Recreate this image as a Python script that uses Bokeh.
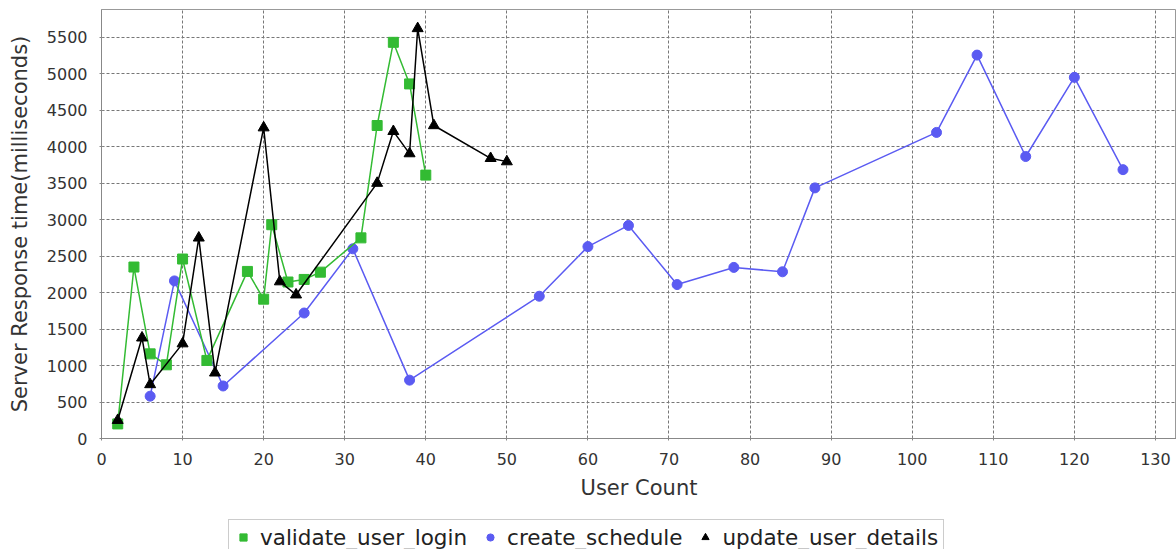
from bokeh.plotting import figure
from bokeh.layouts import column
from bokeh.models import Legend, LegendItem, SingleIntervalTicker, Range1d
from bokeh.embed import file_html
from bokeh.resources import INLINE

# validate_user_login
login_x = [2, 4, 6, 8, 10, 13, 18, 20, 21, 23, 25, 27, 32, 34, 36, 38, 40]
login_y = [200, 2350, 1160, 1010, 2460, 1070, 2290, 1910, 2930, 2145, 2180, 2280, 2750, 4290, 5430, 4860, 3610]

# create_schedule
sched_x = [6, 9, 15, 25, 31, 38, 54, 60, 65, 71, 78, 84, 88, 103, 108, 114, 120, 126]
sched_y = [580, 2160, 720, 1720, 2600, 800, 1950, 2630, 2920, 2110, 2345, 2285, 3435, 4195, 5255, 3865, 4950, 3685]

# update_user_details
upd_x = [2, 5, 6, 10, 12, 14, 20, 22, 24, 34, 36, 38, 39, 41, 48, 50]
upd_y = [250, 1380, 740, 1300, 2750, 900, 4260, 2150, 1970, 3500, 4210, 3905, 5620, 4290, 3840, 3795]

series_names = ["validate_user_login", "create_schedule", "update_user_details"]

GREEN = "#33bb33"
BLUE = "#5b5bf2"
BLACK = "#000000"
FONT = "DejaVu Sans"

p = figure(width=1176, height=519, output_backend="svg", toolbar_location=None,
           x_range=Range1d(0, 132.6), y_range=Range1d(0, 5880),
           min_border_left=101, min_border_right=0, min_border_top=9, min_border_bottom=81)
p.background_fill_color = "white"
p.border_fill_color = "white"
p.outline_line_color = "#999999"
p.outline_line_width = 1

p.xaxis.ticker = SingleIntervalTicker(interval=10, num_minor_ticks=0)
p.yaxis.ticker = SingleIntervalTicker(interval=500, num_minor_ticks=0)
p.xaxis.axis_label = "User Count"
p.yaxis.axis_label = "Server Response time(milliseconds)"
for ax in (p.xaxis, p.yaxis):
    ax.axis_line_color = "#888888"
    ax.major_tick_line_color = "#888888"
    ax.major_tick_in = 2
    ax.major_tick_out = 2
    ax.minor_tick_line_color = None
    ax.major_label_text_font = FONT
    ax.major_label_text_font_size = "16px"
    ax.major_label_text_color = "#333333"
    ax.axis_label_text_font = FONT
    ax.axis_label_text_font_size = "21px"
    ax.axis_label_text_font_style = "normal"
    ax.axis_label_text_color = "#333333"
p.yaxis.major_label_standoff = 12
p.xaxis.major_label_standoff = 12
p.yaxis.axis_label_standoff = 12
p.xaxis.axis_label_standoff = 8

for g in (p.xgrid, p.ygrid):
    g.grid_line_color = "#777777"
    g.grid_line_dash = "3 2"
    g.grid_line_width = 1

p.line(sched_x, sched_y, line_color=BLUE, line_width=1.5)
p.scatter(sched_x, sched_y, marker="circle", size=10, fill_color=BLUE, line_color=BLUE)
p.line(login_x, login_y, line_color=GREEN, line_width=1.5)
p.scatter(login_x, login_y, marker="square", size=10, fill_color=GREEN, line_color=GREEN)
p.line(upd_x, upd_y, line_color=BLACK, line_width=1.5)
p.scatter(upd_x, upd_y, marker="triangle", size=11, fill_color=BLACK, line_color=BLACK)

# legend strip below the chart (same frame alignment as the chart)
pl = figure(width=1176, height=30, output_backend="svg", toolbar_location=None,
            x_range=Range1d(0, 1), y_range=Range1d(0, 1),
            x_axis_location=None, y_axis_location=None,
            min_border_left=101, min_border_right=0, min_border_top=0, min_border_bottom=0)
pl.grid.visible = False
pl.outline_line_color = None
pl.background_fill_color = "white"
pl.border_fill_color = "white"
# legend proxies: first point of each series, lying outside this strip's ranges
k_login = pl.scatter(login_x[:1], login_y[:1], marker="square", fill_color=GREEN, line_color=GREEN)
k_sched = pl.scatter(sched_x[:1], sched_y[:1], marker="circle", fill_color=BLUE, line_color=BLUE)
k_upd = pl.scatter(upd_x[:1], upd_y[:1], marker="triangle", fill_color=BLACK, line_color=BLACK)

legend = Legend(items=[LegendItem(label=series_names[0], renderers=[k_login]),
                       LegendItem(label=series_names[1], renderers=[k_sched]),
                       LegendItem(label=series_names[2], renderers=[k_upd])],
                orientation="horizontal", location=(127, -6.5))
legend.label_text_font = FONT
legend.label_text_font_size = "21.5px"
legend.label_text_color = "#222222"
legend.glyph_width = 18
legend.glyph_height = 20
legend.label_standoff = 8
legend.spacing = 14
legend.padding = 5
legend.margin = 0
legend.border_line_color = "#999999"
legend.border_line_width = 1
legend.background_fill_color = "white"
pl.add_layout(legend, "center")

layout = column(p, pl, spacing=0)
open("out.html", "w").write(file_html(layout, INLINE))
